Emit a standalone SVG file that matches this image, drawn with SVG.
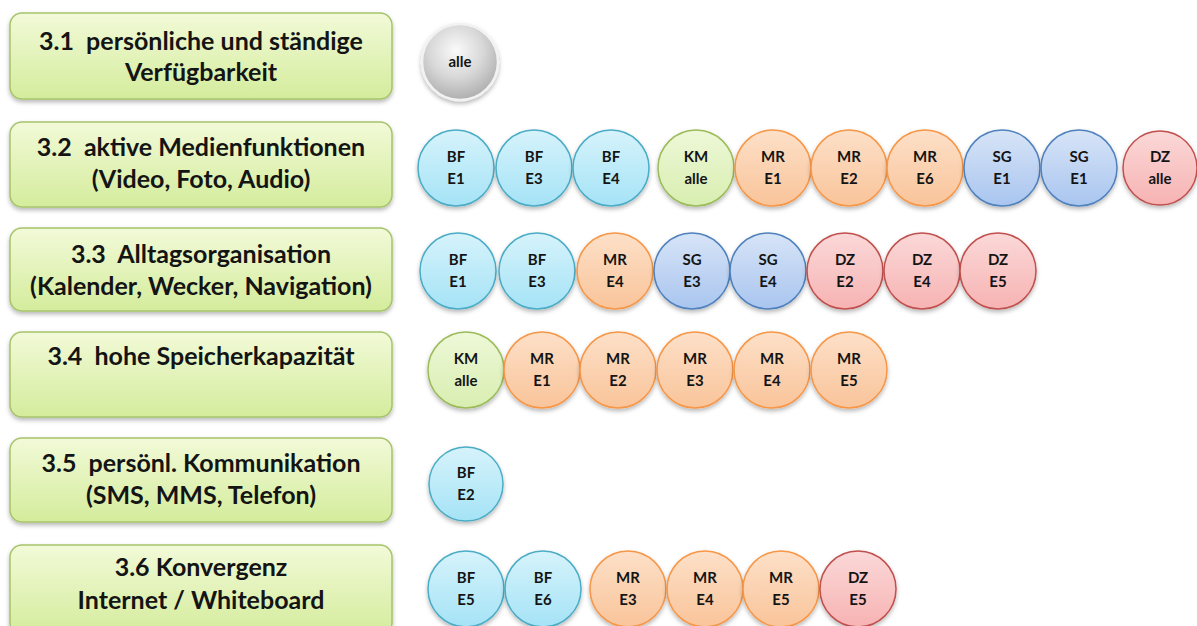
<svg xmlns="http://www.w3.org/2000/svg" width="1197" height="626" viewBox="0 0 1197 626">
<defs>
<linearGradient id="gBox" x1="0" y1="0" x2="0" y2="1"><stop offset="0" stop-color="#f2fad8"/><stop offset="1" stop-color="#d4ec9c"/></linearGradient>
<linearGradient id="gBF" x1="0" y1="0" x2="0" y2="1"><stop offset="0" stop-color="#d6f3fb"/><stop offset="1" stop-color="#a5e3f6"/></linearGradient>
<linearGradient id="gKM" x1="0" y1="0" x2="0" y2="1"><stop offset="0" stop-color="#eef8d8"/><stop offset="1" stop-color="#d8eeb0"/></linearGradient>
<linearGradient id="gMR" x1="0" y1="0" x2="0" y2="1"><stop offset="0" stop-color="#fde0c8"/><stop offset="1" stop-color="#f9c49a"/></linearGradient>
<linearGradient id="gSG" x1="0" y1="0" x2="0" y2="1"><stop offset="0" stop-color="#d7e4f7"/><stop offset="1" stop-color="#a9c5ef"/></linearGradient>
<linearGradient id="gDZ" x1="0" y1="0" x2="0" y2="1"><stop offset="0" stop-color="#fbd8d8"/><stop offset="1" stop-color="#f7b3b3"/></linearGradient>
<radialGradient id="gAll" cx="0.45" cy="0.35" r="0.7"><stop offset="0" stop-color="#fafafa"/><stop offset="0.5" stop-color="#d8d8d8"/><stop offset="1" stop-color="#a8a8a8"/></radialGradient>
<filter id="sh" x="-10%" y="-10%" width="120%" height="130%"><feDropShadow dx="0" dy="2.5" stdDeviation="2" flood-color="#000" flood-opacity="0.28"/></filter>
</defs>
<style>
.box{fill:url(#gBox);stroke:#a6c36a;stroke-width:1.5;filter:url(#sh)}
.bt{font-family:Lato,"Liberation Sans",sans-serif;font-weight:bold;font-size:25px;fill:#141414;text-anchor:middle;white-space:pre}
.c{stroke-width:1.5;filter:url(#sh)}
.bf{fill:url(#gBF);stroke:#4bacc6}
.km{fill:url(#gKM);stroke:#9bbb59}
.mr{fill:url(#gMR);stroke:#f79646}
.sg{fill:url(#gSG);stroke:#4f81bd}
.dz{fill:url(#gDZ);stroke:#c0504d}
.al{fill:url(#gAll);stroke:#f2f2f2;stroke-width:2.5}
.ct{font-family:Lato,"Liberation Sans",sans-serif;font-weight:bold;font-size:15px;fill:#141414;text-anchor:middle}
</style>

<g id="row1">
<g id="box1"><rect class="box" x="10" y="13" width="382" height="86" rx="12"/><text class="bt" x="201" y="50" xml:space="preserve">3.1  persönliche und ständige</text><text class="bt" x="201" y="81">Verfügbarkeit</text></g>
<g id="r1c1"><circle class="c al" cx="460" cy="62" r="38"/><text class="ct" x="460" y="67">alle</text></g>
</g>

<g id="row2">
<g id="box2"><rect class="box" x="10" y="122" width="382" height="85" rx="12"/><text class="bt" x="201" y="156" xml:space="preserve">3.2  aktive Medienfunktionen</text><text class="bt" x="201" y="188">(Video, Foto, Audio)</text></g>
<g id="r2c1"><circle class="c bf" cx="456" cy="168" r="38"/><text class="ct" x="456" y="162">BF</text><text class="ct" x="456" y="184">E1</text></g>
<g id="r2c2"><circle class="c bf" cx="534" cy="168" r="38"/><text class="ct" x="534" y="162">BF</text><text class="ct" x="534" y="184">E3</text></g>
<g id="r2c3"><circle class="c bf" cx="611" cy="168" r="38"/><text class="ct" x="611" y="162">BF</text><text class="ct" x="611" y="184">E4</text></g>
<g id="r2c4"><circle class="c km" cx="696" cy="168" r="38"/><text class="ct" x="696" y="162">KM</text><text class="ct" x="696" y="184">alle</text></g>
<g id="r2c5"><circle class="c mr" cx="773" cy="168" r="38"/><text class="ct" x="773" y="162">MR</text><text class="ct" x="773" y="184">E1</text></g>
<g id="r2c6"><circle class="c mr" cx="849" cy="168" r="38"/><text class="ct" x="849" y="162">MR</text><text class="ct" x="849" y="184">E2</text></g>
<g id="r2c7"><circle class="c mr" cx="925" cy="168" r="38"/><text class="ct" x="925" y="162">MR</text><text class="ct" x="925" y="184">E6</text></g>
<g id="r2c8"><circle class="c sg" cx="1002" cy="168" r="38"/><text class="ct" x="1002" y="162">SG</text><text class="ct" x="1002" y="184">E1</text></g>
<g id="r2c9"><circle class="c sg" cx="1079" cy="168" r="38"/><text class="ct" x="1079" y="162">SG</text><text class="ct" x="1079" y="184">E1</text></g>
<g id="r2c10"><circle class="c dz" cx="1160" cy="168" r="37"/><text class="ct" x="1160" y="162">DZ</text><text class="ct" x="1160" y="184">alle</text></g>
</g>

<g id="row3">
<g id="box3"><rect class="box" x="10" y="228" width="382" height="83" rx="12"/><text class="bt" x="201" y="263" xml:space="preserve">3.3  Alltagsorganisation</text><text class="bt" x="201" y="295">(Kalender, Wecker, Navigation)</text></g>
<g id="r3c1"><circle class="c bf" cx="458" cy="271" r="38"/><text class="ct" x="458" y="265">BF</text><text class="ct" x="458" y="287">E1</text></g>
<g id="r3c2"><circle class="c bf" cx="537" cy="271" r="38"/><text class="ct" x="537" y="265">BF</text><text class="ct" x="537" y="287">E3</text></g>
<g id="r3c3"><circle class="c mr" cx="615" cy="271" r="38"/><text class="ct" x="615" y="265">MR</text><text class="ct" x="615" y="287">E4</text></g>
<g id="r3c4"><circle class="c sg" cx="692" cy="271" r="38"/><text class="ct" x="692" y="265">SG</text><text class="ct" x="692" y="287">E3</text></g>
<g id="r3c5"><circle class="c sg" cx="768" cy="271" r="38"/><text class="ct" x="768" y="265">SG</text><text class="ct" x="768" y="287">E4</text></g>
<g id="r3c6"><circle class="c dz" cx="845" cy="271" r="38"/><text class="ct" x="845" y="265">DZ</text><text class="ct" x="845" y="287">E2</text></g>
<g id="r3c7"><circle class="c dz" cx="922" cy="271" r="38"/><text class="ct" x="922" y="265">DZ</text><text class="ct" x="922" y="287">E4</text></g>
<g id="r3c8"><circle class="c dz" cx="998" cy="271" r="38"/><text class="ct" x="998" y="265">DZ</text><text class="ct" x="998" y="287">E5</text></g>
</g>

<g id="row4">
<g id="box4"><rect class="box" x="10" y="332" width="382" height="85" rx="12"/><text class="bt" x="201" y="365" xml:space="preserve">3.4  hohe Speicherkapazität</text></g>
<g id="r4c1"><circle class="c km" cx="466" cy="370" r="38"/><text class="ct" x="466" y="364">KM</text><text class="ct" x="466" y="386">alle</text></g>
<g id="r4c2"><circle class="c mr" cx="542" cy="370" r="38"/><text class="ct" x="542" y="364">MR</text><text class="ct" x="542" y="386">E1</text></g>
<g id="r4c3"><circle class="c mr" cx="618" cy="370" r="38"/><text class="ct" x="618" y="364">MR</text><text class="ct" x="618" y="386">E2</text></g>
<g id="r4c4"><circle class="c mr" cx="695" cy="370" r="38"/><text class="ct" x="695" y="364">MR</text><text class="ct" x="695" y="386">E3</text></g>
<g id="r4c5"><circle class="c mr" cx="772" cy="370" r="38"/><text class="ct" x="772" y="364">MR</text><text class="ct" x="772" y="386">E4</text></g>
<g id="r4c6"><circle class="c mr" cx="849" cy="370" r="38"/><text class="ct" x="849" y="364">MR</text><text class="ct" x="849" y="386">E5</text></g>
</g>

<g id="row5">
<g id="box5"><rect class="box" x="10" y="438" width="382" height="84" rx="12"/><text class="bt" x="201" y="472" xml:space="preserve">3.5  persönl. Kommunikation</text><text class="bt" x="201" y="504">(SMS, MMS, Telefon)</text></g>
<g id="r5c1"><circle class="c bf" cx="466" cy="484" r="37"/><text class="ct" x="466" y="478">BF</text><text class="ct" x="466" y="500">E2</text></g>
</g>

<g id="row6">
<g id="box6"><rect class="box" x="10" y="545" width="382" height="90" rx="12"/><text class="bt" x="201" y="576">3.6 Konvergenz</text><text class="bt" x="201" y="609">Internet / Whiteboard</text></g>
<g id="r6c1"><circle class="c bf" cx="466" cy="589" r="38"/><text class="ct" x="466" y="583">BF</text><text class="ct" x="466" y="605">E5</text></g>
<g id="r6c2"><circle class="c bf" cx="543" cy="589" r="38"/><text class="ct" x="543" y="583">BF</text><text class="ct" x="543" y="605">E6</text></g>
<g id="r6c3"><circle class="c mr" cx="628" cy="589" r="38"/><text class="ct" x="628" y="583">MR</text><text class="ct" x="628" y="605">E3</text></g>
<g id="r6c4"><circle class="c mr" cx="705" cy="589" r="38"/><text class="ct" x="705" y="583">MR</text><text class="ct" x="705" y="605">E4</text></g>
<g id="r6c5"><circle class="c mr" cx="781" cy="589" r="38"/><text class="ct" x="781" y="583">MR</text><text class="ct" x="781" y="605">E5</text></g>
<g id="r6c6"><circle class="c dz" cx="858" cy="589" r="38"/><text class="ct" x="858" y="583">DZ</text><text class="ct" x="858" y="605">E5</text></g>
</g>

<g id="connectors"/>
</svg>
